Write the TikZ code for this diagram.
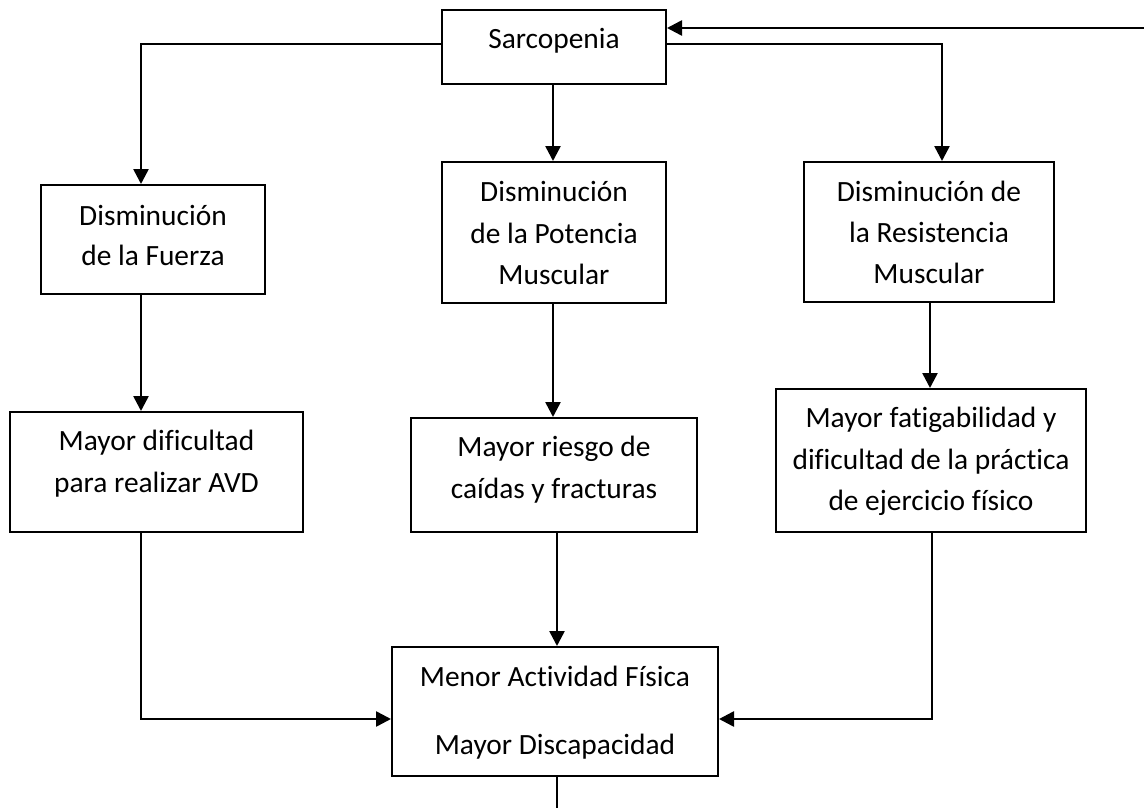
\documentclass[tikz,border=0pt]{standalone}
\usepackage{fontspec}
\setmainfont{Carlito}[Ligatures=NoCommon]
\usetikzlibrary{arrows.meta}
\begin{document}
\begin{tikzpicture}[x=1pt,y=-1pt,
  boxnode/.style={draw=black,line width=2pt,inner sep=0pt,fill=none},
  txt/.style={anchor=base,inner sep=0pt,font=\fontsize{29.4}{42}\selectfont},
  conn/.style={line width=2.6pt,draw=black,-{Triangle[length=15pt,width=15pt]}},
  plain/.style={line width=2.6pt,draw=black}]
\useasboundingbox (0,0) rectangle (1144,808);
% boxes
\node[boxnode,minimum width=224pt,minimum height=74pt] (sarc) at (554,47) {};
\node[boxnode,minimum width=224pt,minimum height=109pt] (fuerza) at (153,239.5) {};
\node[boxnode,minimum width=224pt,minimum height=141pt] (pot) at (554,232.5) {};
\node[boxnode,minimum width=250pt,minimum height=140pt] (res) at (929,232) {};
\node[boxnode,minimum width=293pt,minimum height=120pt] (dif) at (156.5,472) {};
\node[boxnode,minimum width=286pt,minimum height=114pt] (ries) at (554,475) {};
\node[boxnode,minimum width=310pt,minimum height=143pt] (fat) at (931,460.5) {};
\node[boxnode,minimum width=326pt,minimum height=129pt] (menor) at (555,711.5) {};
% texts
\node[txt] (t0) at (554,49) {Sarcopenia};
\node[txt] (t1a) at (153,225) {Disminución};
\node[txt] (t1b) at (153,265) {de la Fuerza};
\node[txt] (t2a) at (554,201) {Disminución};
\node[txt] (t2b) at (554,243) {de la Potencia};
\node[txt] (t2c) at (554,284) {Muscular};
\node[txt] (t3a) at (929,201) {Disminución de};
\node[txt] (t3b) at (929,242) {la Resistencia};
\node[txt] (t3c) at (929,283) {Muscular};
\node[txt] (t4a) at (156.5,450) {Mayor dificultad};
\node[txt] (t4b) at (156.5,492) {para realizar AVD};
\node[txt] (t5a) at (554,456) {Mayor riesgo de};
\node[txt] (t5b) at (554,498) {caídas y fracturas};
\node[txt] (t6a) at (931,427) {Mayor fatigabilidad y};
\node[txt] (t6b) at (931,469) {dificultad de la práctica};
\node[txt] (t6c) at (931,510) {de ejercicio físico};
\node[txt] (t7a) at (555,686) {Menor Actividad Física};
\node[txt] (t7b) at (555,754) {Mayor Discapacidad};
% bend coordinates
\coordinate (bL) at (141,44);
\coordinate (bR) at (942,44);
\coordinate (cM) at (553,0);
\coordinate (cR) at (930,0);
\coordinate (dL) at (141,719);
\coordinate (dR) at (932,719);
\coordinate (cB) at (557,0);
\coordinate (fb) at (1144,28);
\coordinate (bot) at (557,808);
% connectors
\draw[conn] (sarc.west |- bL) -- (bL) -- (fuerza.north -| bL);
\draw[conn] (sarc.east |- bR) -- (bR) -- (res.north -| bR);
\draw[conn] (sarc.south -| cM) -- (pot.north -| cM);
\draw[conn] (fuerza.south -| bL) -- (dif.north -| bL);
\draw[conn] (pot.south -| cM) -- (ries.north -| cM);
\draw[conn] (res.south -| cR) -- (fat.north -| cR);
\draw[conn] (dif.south -| dL) -- (dL) -- (menor.west |- dL);
\draw[conn] (ries.south -| cB) -- (menor.north -| cB);
\draw[conn] (fat.south -| dR) -- (dR) -- (menor.east |- dR);
\draw[plain] (menor.south -| bot) -- (bot);
\draw[conn] (fb) -- (sarc.east |- fb);
\end{tikzpicture}
\end{document}
